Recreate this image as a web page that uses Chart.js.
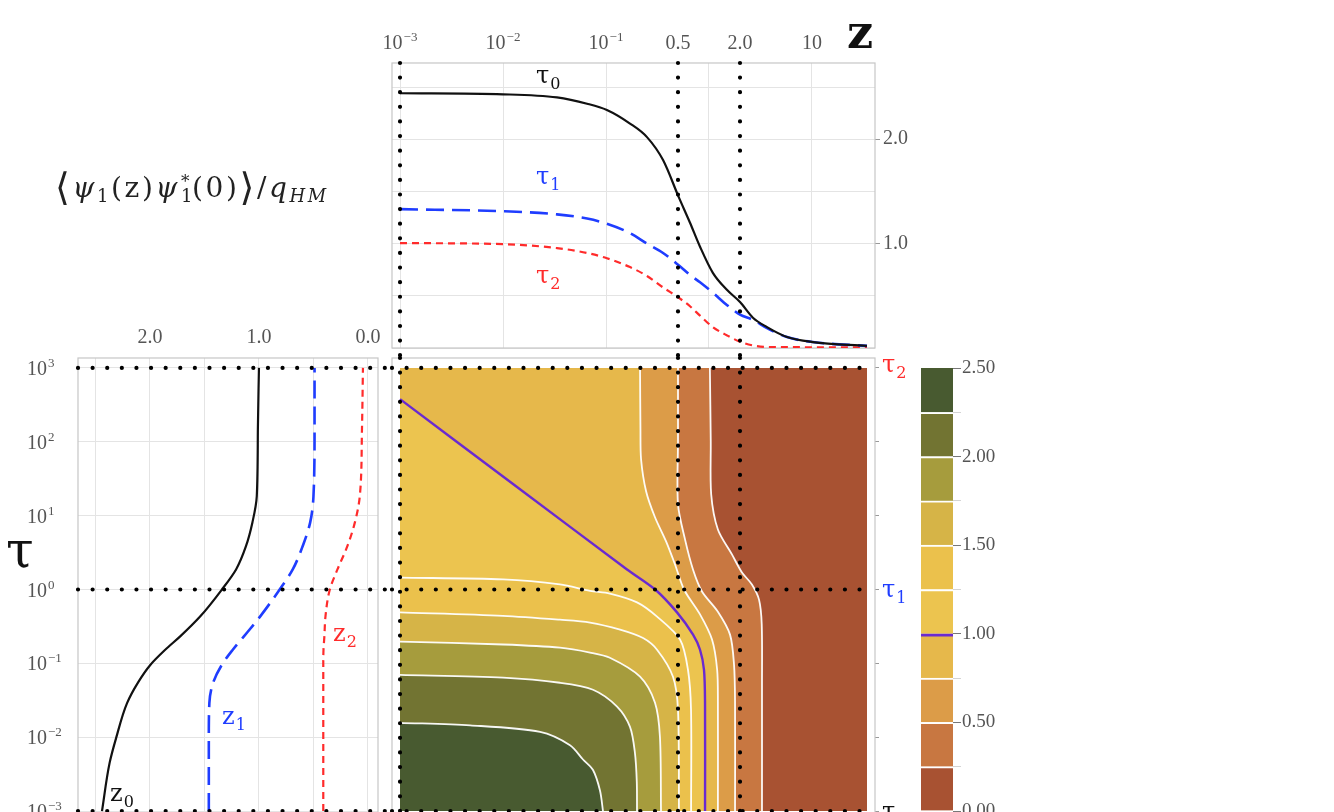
<!DOCTYPE html>
<html lang="en">
<head>
<meta charset="UTF-8">
<title>Correlation map</title>
<script src="https://cdn.jsdelivr.net/npm/chart.js@4.4.0/dist/chart.umd.min.js"></script>
<style>
  html, body { margin: 0; padding: 0; width: 1334px; height: 812px; overflow: hidden; background: #fff; }
  canvas { position: absolute; left: 0; top: 0; }
  #formula { position: absolute; left: 55px; top: 167px; font-family: 'DejaVu Serif', serif; font-size: 28px; color: #222; white-space: nowrap; line-height: 40px; letter-spacing: 2.6px; }
  #formula sub { font-size: 18px; vertical-align: -5px; line-height: 0; }
  #formula .ang { font-size: 38px; vertical-align: -3px; font-weight: 200; }
  #formula .ss { display: inline-block; position: relative; width: 12px; height: 10px; }
  #formula .ss span { position: absolute; left: 1px; line-height: 1; }
  #formula .ss .s1 { top: -14px; font-size: 17px; }
  #formula .ss .s2 { top: 0; font-size: 18px; }
</style>
</head>
<body>
<canvas id="mapChart" width="1334" height="830"></canvas>
<canvas id="leftChart" width="1334" height="830"></canvas>
<canvas id="topChart" width="1334" height="812"></canvas>
<canvas id="barChart" width="1334" height="830"></canvas>
<div id="formula"><span class="ang">⟨</span><i>ψ</i><sub>1</sub>(z)<i>ψ</i><span class="ss"><span class="s1">*</span><span class="s2">1</span></span>(0)<span class="ang">⟩</span>/<i>q</i><sub><i>HM</i></sub></div>
<script>
// top panel: correlation against z at tau0, tau1, tau2
const zTop = [0.001, 0.01, 0.0334, 0.0655, 0.102, 0.171, 0.25, 0.358, 0.511, 0.654, 0.818, 1.09, 1.5, 2.0, 2.67, 3.66, 5.72, 10.2, 34.2];
const psiTau0 = [2.44, 2.43, 2.40, 2.34, 2.28, 2.15, 2.02, 1.80, 1.44, 1.20, 0.97, 0.72, 0.555, 0.44, 0.29, 0.20, 0.105, 0.057, 0.02];
const psiTau1 = [1.33, 1.31, 1.28, 1.24, 1.19, 1.10, 1.00, 0.91, 0.79, 0.70, 0.63, 0.53, 0.41, 0.32, 0.27, 0.19, 0.105, 0.057, 0.02];
const psiTau2 = [1.005, 0.995, 0.957, 0.91, 0.86, 0.775, 0.69, 0.58, 0.48, 0.40, 0.31, 0.20, 0.12, 0.06, 0.025, 0.01, 0.008, 0.007, 0.005];

// left panel: correlation against tau at z0, z1, z2
const tauLeft = [0.001, 0.0045, 0.0098, 0.029, 0.055, 0.096, 0.153, 0.23, 0.43, 1.0, 1.87, 3.83, 8.1, 18.3, 148, 1000];
const psiZ0 = [2.44, 2.37, 2.31, 2.21, 2.11, 1.995, 1.86, 1.725, 1.54, 1.34, 1.21, 1.12, 1.06, 1.02, 1.01, 1.00];
const psiZ1 = [1.46, 1.46, 1.46, 1.455, 1.42, 1.34, 1.24, 1.14, 0.99, 0.81, 0.69, 0.60, 0.53, 0.50, 0.49, 0.49];
const psiZ2 = [0.41, 0.41, 0.41, 0.41, 0.41, 0.41, 0.408, 0.40, 0.39, 0.35, 0.28, 0.19, 0.12, 0.075, 0.055, 0.046];

// marked positions (dotted lines)
const zMarks = [0.001, 0.5, 2.0];
const tauMarks = [1000, 1, 0.001];

// tick labels
const zGrid = [0.001, 0.01, 0.1, 1, 10];
const zTickValues = [0.001, 0.01, 0.1, 0.5, 2, 10];
const zTickLabels = ['10^\u22123', '10^\u22122', '10^\u22121', '0.5', '2.0', '10'];
const tauTickValues = [1000, 100, 10, 1, 0.1, 0.01, 0.001];
const tauTickLabels = ['10^3', '10^2', '10^1', '10^0', '10^\u22121', '10^\u22122', '10^\u22123'];

// contour levels of the map and their colours (low to high)
const levels = [0, 0.25, 0.5, 0.75, 1.0, 1.25, 1.5, 1.75, 2.0, 2.25, 2.5];
const bandColors = ['#a85232', '#c87741', '#dc9c48', '#e6b84b', '#ecc44f', '#ebc14c', '#d6b447', '#a69c3d', '#727432', '#485a30'];

// contour lines, [z, tau]
const contour025 = [[1.02, 1000], [1.04, 100], [1.05, 19.5], [1.22, 6.5], [1.67, 2.99], [2.09, 1.70], [2.61, 1.17], [3.06, 0.73], [3.25, 0.34], [3.27, 0.05], [3.27, 0.001]];
const contour050 = [[0.5, 1000], [0.5, 100], [0.5, 14.2], [0.585, 4.77], [0.699, 1.87], [0.855, 0.94], [1.22, 0.50], [1.60, 0.245], [1.75, 0.096], [1.79, 0.03], [1.79, 0.001]];
const contour075 = [[0.214, 1000], [0.216, 150], [0.219, 58], [0.245, 21.4], [0.299, 9.5], [0.383, 4.48], [0.468, 2.18], [0.572, 1.0], [0.818, 0.46], [1.07, 0.21], [1.20, 0.082], [1.22, 0.03], [1.22, 0.001]];
const contour100 = [[0.001, 378], [0.0126, 26.6], [0.16, 1.87], [0.30, 1.0], [0.489, 0.49], [0.70, 0.245], [0.818, 0.153], [0.894, 0.082], [0.915, 0.029], [0.915, 0.001]];
const contour125 = [[0.001, 1.45], [0.01, 1.37], [0.0357, 1.17], [0.07, 0.96], [0.109, 0.88], [0.2, 0.67], [0.313, 0.43], [0.523, 0.21], [0.625, 0.082], [0.669, 0.0235], [0.67, 0.001]];
const contour150 = [[0.001, 0.49], [0.01, 0.44], [0.0357, 0.39], [0.07, 0.357], [0.137, 0.286], [0.229, 0.22], [0.313, 0.153], [0.447, 0.066], [0.50, 0.0235], [0.511, 0.001]];
const contour175 = [[0.001, 0.197], [0.01, 0.18], [0.0357, 0.163], [0.07, 0.14], [0.109, 0.119], [0.214, 0.066], [0.299, 0.0293], [0.334, 0.0101], [0.342, 0.001]];
const contour200 = [[0.001, 0.070], [0.01, 0.064], [0.0357, 0.0547], [0.0748, 0.044], [0.128, 0.026], [0.171, 0.0138], [0.191, 0.0061], [0.199, 0.0025], [0.200, 0.001]];
const contour225 = [[0.001, 0.0157], [0.0048, 0.0145], [0.0229, 0.0118], [0.0447, 0.0078], [0.0598, 0.005], [0.0748, 0.0036], [0.0874, 0.0019], [0.0935, 0.001]];
const contours = [contour025, contour050, contour075, contour100, contour125, contour150, contour175, contour200, contour225];

// extent of the computed field and axis ranges
const zEdge = 0.001, zFar = 34.2, tauLow = 0.001, tauHigh = 1000;
const zAxisMin = 8.36e-4, zAxisMax = 40.9, zDotEnd = 36.6;
const tauAxisMin = 7.35e-4, tauAxisMax = 1361;
const topYMax = 2.73, leftXMin = -0.092, leftXMax = 2.66;

const GRID = '#e4e4e4', FRAME = '#c6c6c6', TICK = '#555';
const BLACK = '#111', BLUE = '#1f3dff', RED = '#ff2b2b', PURPLE = '#6a2ad0';
const SERIF = "'Liberation Serif', serif";
const GREEK = "'DejaVu Serif', serif";
const TENSION = 0.3;

Chart.defaults.font.family = SERIF;
Chart.defaults.font.size = 20;
Chart.defaults.color = TICK;

function pairs(list) { return list.map(p => ({x: p[0], y: p[1]})); }
function xy(xs, ys) { return xs.map((x, i) => ({x: x, y: ys[i]})); }
function zeroBox(scale) { if (scale.isHorizontal()) scale.height = 0; else scale.width = 0; }
function fixedBox(size) {
    return scale => { if (scale.isHorizontal()) scale.height = size; else scale.width = size; };
}

function curve(points, color, dash, width) {
    return { data: points, borderColor: color, borderDash: dash, borderWidth: width,
             pointRadius: 0, fill: false, cubicInterpolationMode: 'monotone', order: 2 };
}
function dotted(points) {
    return { data: points, borderColor: '#000', borderWidth: 4.2, borderDash: [0.01, 14.6],
             borderCapStyle: 'round', pointRadius: 0, fill: false, tension: 0, clip: false, order: 0 };
}
// closed region "value >= level" left of / below a contour
function regionShape(pts) {
    const first = pts[0], last = pts[pts.length - 1];
    const corners = first[1] === tauHigh ? [[zEdge, tauLow], [zEdge, tauHigh]] : [[zEdge, tauLow]];
    const loop = pts.concat([last]);
    corners.forEach(c => loop.push(c, c));
    loop.push(first);
    return pairs(loop);
}

// plugins
const framePlugin = {
    id: 'frame',
    beforeDatasetsDraw(chart, args, opts) {
        if (!opts.color) return;
        const a = chart.chartArea, ctx = chart.ctx;
        ctx.save();
        ctx.strokeStyle = opts.color;
        ctx.lineWidth = 1.2;
        ctx.strokeRect(a.left, a.top, a.right - a.left, a.bottom - a.top);
        ctx.restore();
    }
};
const texTicks = {
    id: 'texTicks',
    afterDraw(chart, args, opts) {
        if (!opts.axis) return;
        const scale = chart.scales[opts.axis], ctx = chart.ctx;
        ctx.save();
        ctx.fillStyle = TICK;
        ctx.textBaseline = 'alphabetic';
        ctx.textAlign = 'left';
        opts.values.forEach((v, i) => {
            const parts = opts.labels[i].split('^');
            ctx.font = '20px ' + SERIF;
            const bw = ctx.measureText(parts[0]).width;
            ctx.font = '13px ' + SERIF;
            const ew = parts[1] ? ctx.measureText(parts[1]).width + 1 : 0;
            const p = scale.getPixelForValue(v);
            let x, y;
            if (opts.side === 'top') { x = p - (bw + ew) / 2; y = chart.chartArea.top - opts.offset; }
            else { x = opts.x; y = p + opts.offset; }
            ctx.font = '20px ' + SERIF;
            ctx.fillText(parts[0], x, y);
            if (parts[1]) { ctx.font = '13px ' + SERIF; ctx.fillText(parts[1], x + bw + 1, y - 8); }
        });
        ctx.restore();
    }
};
const notes = {
    id: 'notes',
    afterDraw(chart, args, opts) {
        const ctx = chart.ctx;
        (opts.items || []).forEach(n => {
            ctx.save();
            ctx.fillStyle = n.color || BLACK;
            ctx.font = n.font;
            ctx.textBaseline = 'alphabetic';
            ctx.fillText(n.text, n.x, n.y);
            if (n.sub) {
                const w = ctx.measureText(n.text).width;
                ctx.font = n.subFont;
                ctx.fillText(n.sub, n.x + w + 1, n.y + 6);
            }
            ctx.restore();
        });
    }
};

const baseOptions = { responsive: false, animation: false, events: [] };
const quiet = { legend: { display: false }, tooltip: { enabled: false } };

// ---------- map ----------
const mapSets = [
    { data: pairs([[zEdge, tauLow], [zFar, tauLow], [zFar, tauHigh], [zEdge, tauHigh], [zEdge, tauLow]]),
      fill: 'shape', backgroundColor: bandColors[0], borderWidth: 0, pointRadius: 0, tension: 0, order: 30 }
];
contours.forEach((c, i) => {
    mapSets.push({ data: regionShape(c), fill: 'shape', backgroundColor: bandColors[i + 1],
                   borderWidth: 0, pointRadius: 0, tension: TENSION, order: 29 - i });
});
contours.forEach((c, i) => {
    const isOne = levels[i + 1] === 1;
    mapSets.push({ data: pairs(c), borderColor: isOne ? PURPLE : 'rgba(255,255,255,0.95)',
                   borderWidth: isOne ? 2.4 : 1.8, pointRadius: 0, fill: false, tension: TENSION, order: isOne ? 1 : 3 });
});
zMarks.forEach(z => mapSets.push(dotted(pairs([[z, tauAxisMax], [z, tauAxisMin]]))));
tauMarks.forEach(t => mapSets.push(dotted(pairs([[zAxisMin, t], [zDotEnd, t]]))));

new Chart(document.getElementById('mapChart'), {
    type: 'line',
    data: { datasets: mapSets },
    options: Object.assign({}, baseOptions, {
        layout: { padding: { left: 392, right: 459, top: 358, bottom: 9 } },
        scales: {
            x: { type: 'logarithmic', min: zAxisMin, max: zAxisMax, afterFit: zeroBox,
                 ticks: { display: false }, grid: { display: false }, border: { display: false } },
            y: { type: 'logarithmic', position: 'right', min: tauAxisMin, max: tauAxisMax, afterFit: zeroBox,
                 afterBuildTicks: s => { s.ticks = tauTickValues.map(v => ({ value: v })); },
                 ticks: { display: false },
                 grid: { drawOnChartArea: false, tickLength: 4, tickColor: '#999' }, border: { display: false } }
        },
        plugins: Object.assign({}, quiet, {
            frame: { color: FRAME },
            notes: { items: [
                { text: 'τ', sub: '2', x: 882, y: 372, color: RED, font: '24px ' + GREEK, subFont: '16px ' + GREEK },
                { text: 'τ', sub: '1', x: 882, y: 597, color: BLUE, font: '24px ' + GREEK, subFont: '16px ' + GREEK },
                { text: 'τ', sub: '0', x: 882, y: 819, color: BLACK, font: '24px ' + GREEK, subFont: '16px ' + GREEK }
            ] }
        })
    }),
    plugins: [framePlugin, notes]
});

// ---------- left panel (tau runs along y) ----------
const leftSets = [
    curve(xy(psiZ0, tauLeft), BLACK, [], 2.2),
    curve(xy(psiZ1, tauLeft), BLUE, [18, 8], 2.6),
    curve(xy(psiZ2, tauLeft), RED, [7, 5], 2.2)
];
tauMarks.forEach(t => leftSets.push(dotted(pairs([[leftXMax, t], [-0.22, t]]))));

new Chart(document.getElementById('leftChart'), {
    type: 'line',
    data: { datasets: leftSets },
    options: Object.assign({}, baseOptions, {
        indexAxis: 'y',
        layout: { padding: { left: 78, right: 956, top: 318, bottom: 9 } },
        scales: {
            x: { type: 'linear', position: 'top', reverse: true, min: leftXMin, max: leftXMax, afterFit: fixedBox(40),
                 ticks: { stepSize: 0.5, includeBounds: false, autoSkip: false, maxRotation: 0, padding: 8,
                          callback: v => Math.abs(v - Math.round(v)) < 1e-6 ? v.toFixed(1) : '' },
                 grid: { color: GRID, drawTicks: false }, border: { display: false } },
            y: { type: 'logarithmic', min: tauAxisMin, max: tauAxisMax, afterFit: zeroBox,
                 afterBuildTicks: s => { s.ticks = tauTickValues.map(v => ({ value: v })); },
                 ticks: { display: false }, grid: { color: GRID, drawTicks: false }, border: { display: false } }
        },
        plugins: Object.assign({}, quiet, {
            frame: { color: FRAME },
            texTicks: { axis: 'y', side: 'left', x: 27, offset: 7, values: tauTickValues, labels: tauTickLabels },
            notes: { items: [
                { text: 'z', sub: '0', x: 110, y: 801, color: BLACK, font: '24px ' + GREEK, subFont: '16px ' + GREEK },
                { text: 'z', sub: '1', x: 222, y: 724, color: BLUE, font: '24px ' + GREEK, subFont: '16px ' + GREEK },
                { text: 'z', sub: '2', x: 333, y: 641, color: RED, font: '24px ' + GREEK, subFont: '16px ' + GREEK },
                { text: 'τ', x: 6, y: 567, color: BLACK, font: '50px ' + GREEK }
            ] }
        })
    }),
    plugins: [framePlugin, texTicks, notes]
});

// ---------- top panel ----------
const topSets = [
    curve(xy(zTop, psiTau0), BLACK, [], 2.2),
    curve(xy(zTop, psiTau1), BLUE, [18, 8], 2.6),
    curve(xy(zTop, psiTau2), RED, [7, 5], 2.2)
];
zMarks.forEach(z => topSets.push(dotted(pairs([[z, topYMax], [z, -0.1]]))));

const isWhole = v => v > 0 && Math.abs(v - Math.round(v)) < 1e-6;
new Chart(document.getElementById('topChart'), {
    type: 'line',
    data: { datasets: topSets },
    options: Object.assign({}, baseOptions, {
        layout: { padding: { left: 392, right: 399, top: 63, bottom: 464 } },
        scales: {
            x: { type: 'logarithmic', position: 'top', min: zAxisMin, max: zAxisMax, afterFit: zeroBox,
                 afterBuildTicks: s => { s.ticks = zGrid.map(v => ({ value: v })); },
                 ticks: { display: false }, grid: { color: GRID, drawTicks: false }, border: { display: false } },
            y: { type: 'linear', position: 'right', min: 0, max: topYMax, afterFit: fixedBox(60),
                 ticks: { stepSize: 0.5, includeBounds: false, autoSkip: false, padding: 3,
                          callback: v => isWhole(v) ? v.toFixed(1) : '' },
                 grid: { color: GRID, tickLength: 5,
                         tickColor: c => (c.tick && isWhole(c.tick.value)) ? '#999' : 'rgba(0,0,0,0)' },
                 border: { display: false } }
        },
        plugins: Object.assign({}, quiet, {
            frame: { color: FRAME },
            texTicks: { axis: 'x', side: 'top', offset: 14, values: zTickValues, labels: zTickLabels },
            notes: { items: [
                { text: 'τ', sub: '0', x: 536, y: 83, color: BLACK, font: '24px ' + GREEK, subFont: '16px ' + GREEK },
                { text: 'τ', sub: '1', x: 536, y: 184, color: BLUE, font: '24px ' + GREEK, subFont: '16px ' + GREEK },
                { text: 'τ', sub: '2', x: 536, y: 283, color: RED, font: '24px ' + GREEK, subFont: '16px ' + GREEK },
                { text: 'z', x: 847, y: 48, color: BLACK, font: 'bold 46px ' + GREEK }
            ] }
        })
    }),
    plugins: [framePlugin, texTicks, notes]
});

// ---------- colour bar ----------
const barSets = bandColors.map((c, i) => ({
    data: [[levels[i], levels[i + 1]]],
    backgroundColor: c,
    borderColor: levels[i + 1] === 1 ? PURPLE : 'rgba(255,255,255,0.9)',
    borderWidth: i === bandColors.length - 1 ? 0 : { top: levels[i + 1] === 1 ? 3 : 2, left: 0, right: 0, bottom: 0 },
    borderSkipped: false, barPercentage: 1, categoryPercentage: 1, grouped: false
}));

const isHalf = v => Math.abs(v * 2 - Math.round(v * 2)) < 1e-6;
new Chart(document.getElementById('barChart'), {
    type: 'bar',
    data: { labels: ['ψ'], datasets: barSets },
    options: Object.assign({}, baseOptions, {
        layout: { padding: { left: 921, right: 321, top: 368, bottom: 19 } },
        scales: {
            x: { display: false },
            y: { position: 'right', min: 0, max: 2.5, afterFit: fixedBox(60),
                 ticks: { stepSize: 0.25, autoSkip: false, padding: 1, font: { size: 19 },
                          callback: v => isHalf(v) ? v.toFixed(2) : '' },
                 grid: { drawOnChartArea: false, tickLength: 8,
                         tickColor: c => (c.tick && isHalf(c.tick.value)) ? '#777' : '#d4d4d4' },
                 border: { display: false } }
        },
        plugins: quiet
    })
});
</script>
</body>
</html>
